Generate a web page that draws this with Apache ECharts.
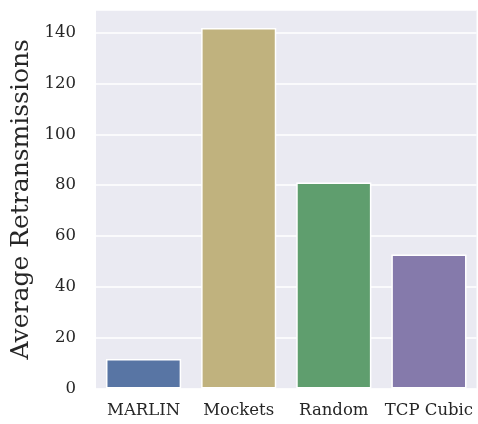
<!DOCTYPE html>
<html><head><meta charset="utf-8">
<script src="https://cdn.jsdelivr.net/npm/echarts@6/dist/echarts.min.js"></script>
<style>html,body{margin:0;padding:0;background:#fff}#c{width:478px;height:424px}</style>
</head><body><div id="c"></div>
<script>
const categories = ['MARLIN', 'Mockets', 'Random', 'TCP Cubic'];
const values = [11.6, 141.8, 81.0, 52.7];
const colors = ['#5875a4', '#c0b27e', '#5f9e6e', '#857aab'];
const yTicks = [0, 20, 40, 60, 80, 100, 120, 140];
const yTitle = 'Average Retransmissions';

const font = 'DejaVu Serif';
const chart = echarts.init(document.getElementById('c'), null, {renderer: 'canvas'});
chart.setOption({
  animation: false,
  backgroundColor: '#ffffff',
  grid: {left: 96, right: 1.5, top: 10, bottom: 35.5, show: true, backgroundColor: '#EAEAF2', borderWidth: 0},
  xAxis: {
    type: 'category', data: categories,
    axisLine: {show: false}, axisTick: {show: false},
    axisLabel: {color: '#262626', fontFamily: font, fontSize: 16.5, margin: 14, interval: 0}
  },
  yAxis: {
    type: 'value', min: 0, max: 148.9, interval: 20,
    name: yTitle, nameLocation: 'middle', nameGap: 62,
    nameTextStyle: {color: '#262626', fontFamily: font, fontSize: 25},
    axisLine: {show: false}, axisTick: {show: false},
    splitLine: {lineStyle: {color: '#ffffff', width: 1.5}},
    axisLabel: {color: '#262626', fontFamily: font, fontSize: 16.5, margin: 20,
      formatter: v => yTicks.includes(v) ? String(v) : ''}
  },
  series: [{
    type: 'bar', barWidth: '79%',
    data: values.map((v, i) => ({value: v, itemStyle: {color: colors[i]}})),
    itemStyle: {borderColor: '#ffffff', borderWidth: 1.5}
  }]
});
</script></body></html>
